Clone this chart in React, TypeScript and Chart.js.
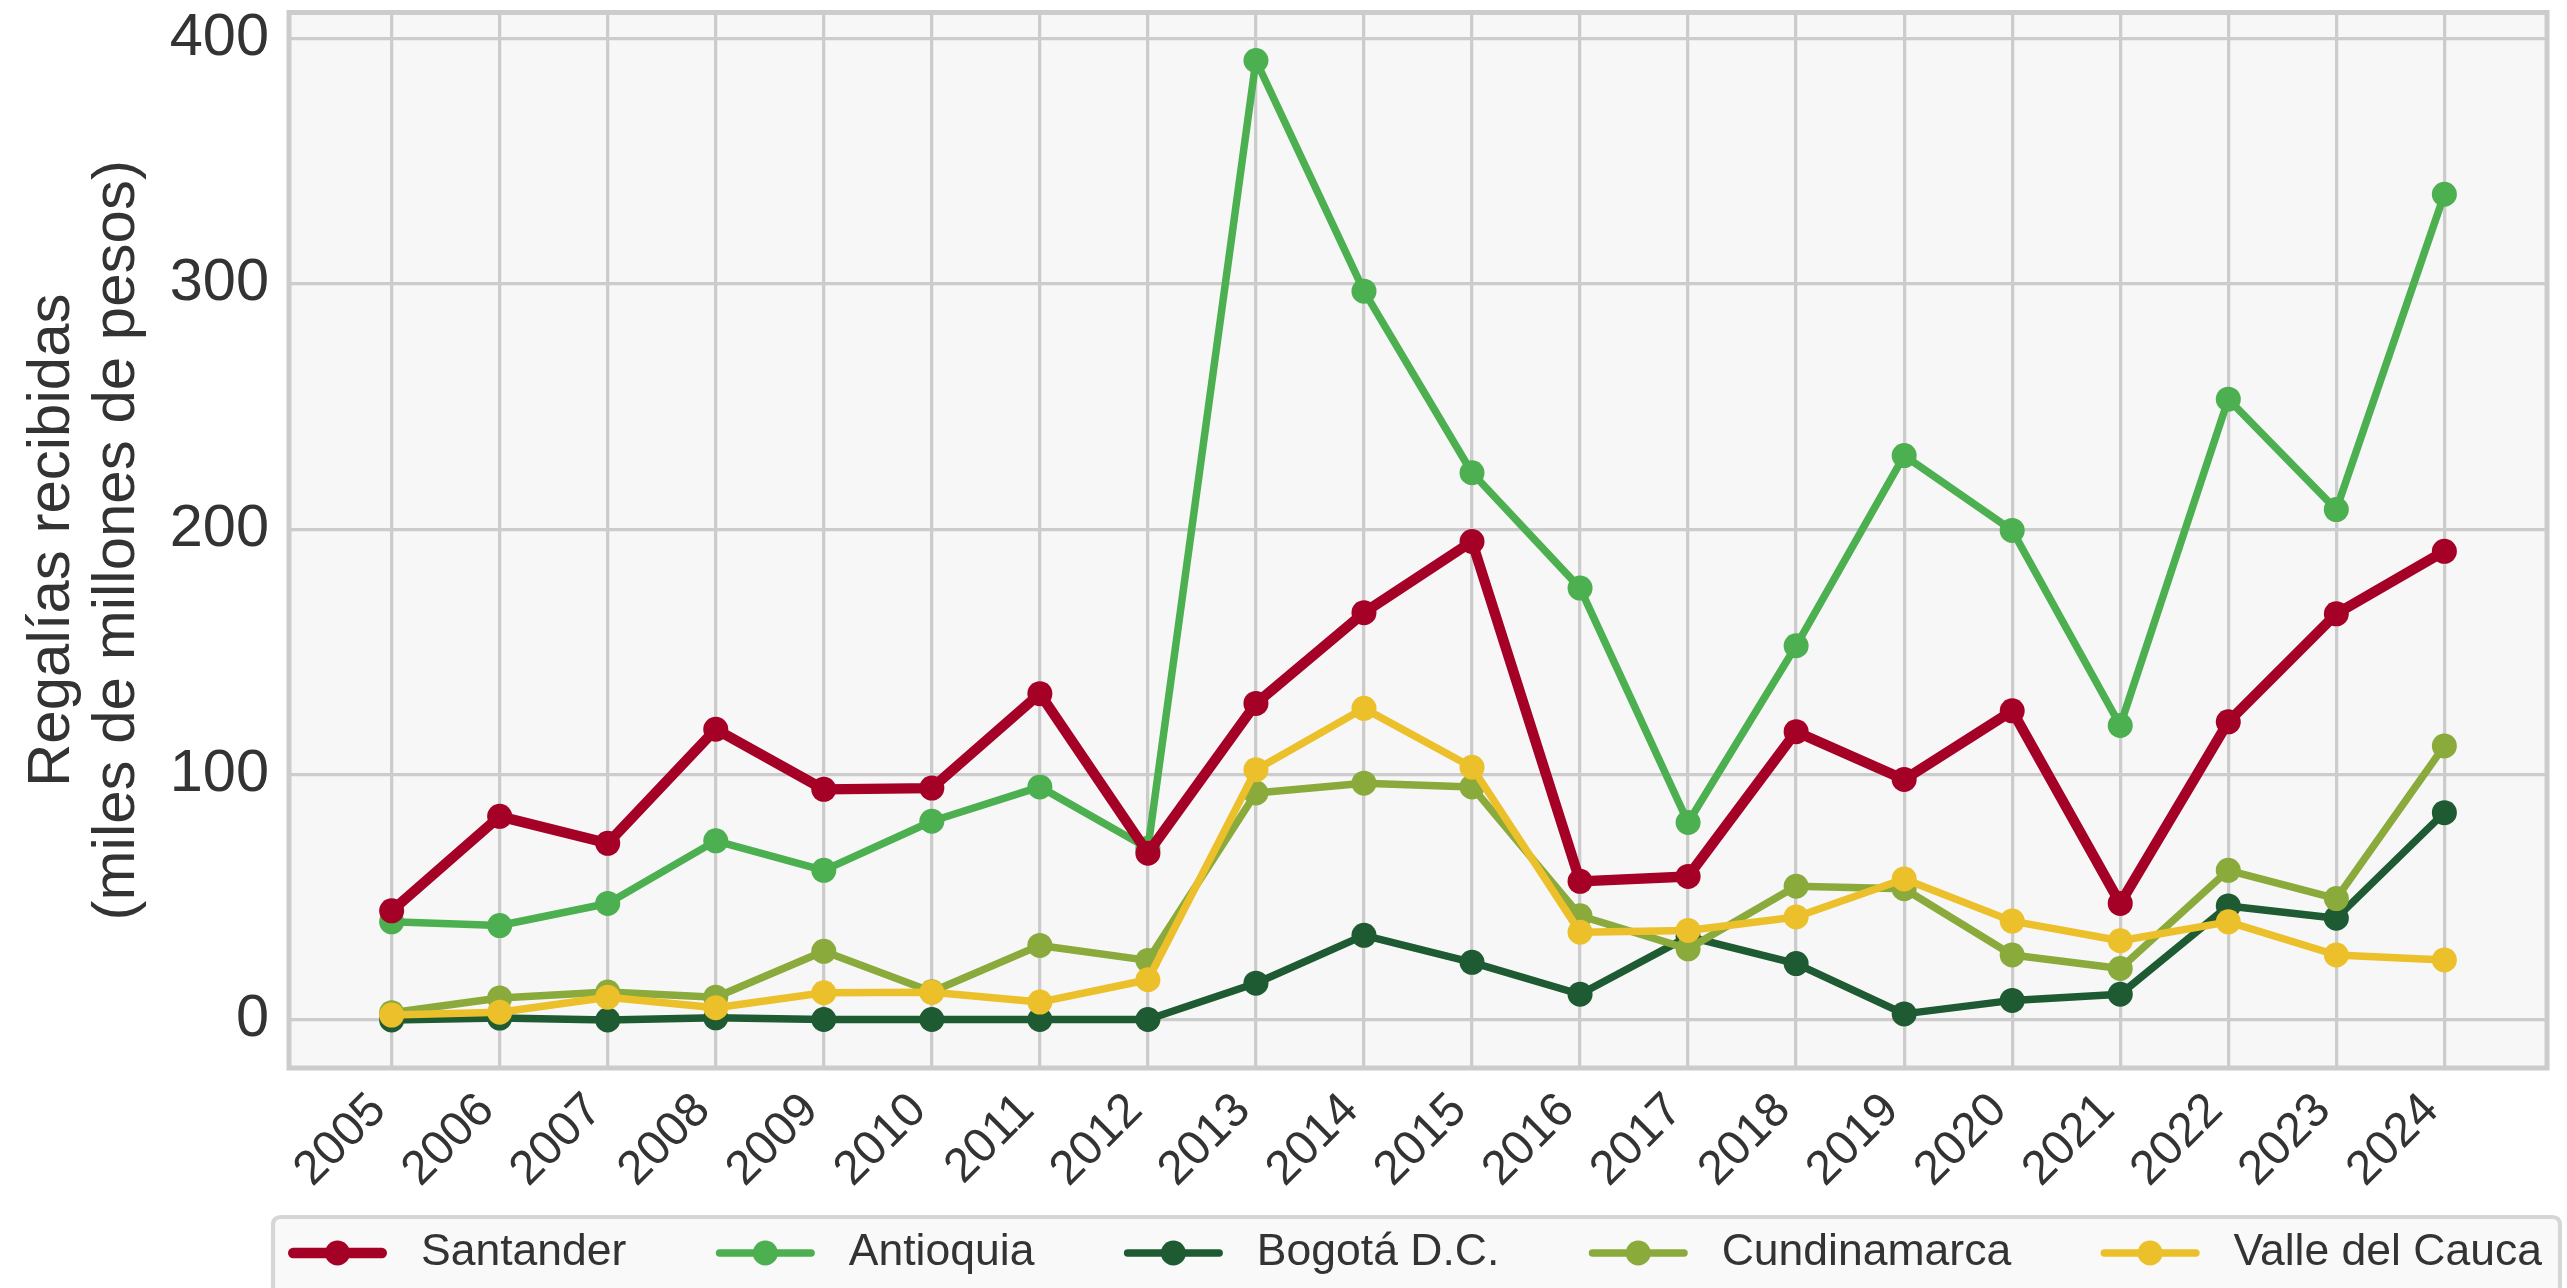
import React, { useEffect, useRef } from "react";
import { Chart, registerables } from "chart.js";

Chart.register(...registerables);

// ---------------- data ----------------
const years = [2005, 2006, 2007, 2008, 2009, 2010, 2011, 2012, 2013, 2014, 2015, 2016, 2017, 2018, 2019, 2020, 2021, 2022, 2023, 2024];

const seriesNames = ["Santander", "Antioquia", "Bogotá D.C.", "Cundinamarca", "Valle del Cauca"];

const santander = [44.5, 83, 72, 118.5, 94, 94.5, 133, 68, 129, 166, 195, 56.5, 58.5, 117.5, 98, 126, 47.5, 121.5, 165.5, 191];
const antioquia = [40, 38.5, 47.5, 73, 61, 81, 95, 70, 391, 297, 223, 176, 80.5, 152.5, 230, 199.5, 120, 253, 208, 336.5];
const bogota = [0, 0.8, 0, 0.9, 0.2, 0.2, 0.2, 0.2, 15, 34.5, 23.5, 10.5, 34, 23, 2.5, 8, 10.5, 46.5, 41.5, 84.5];
const cundinamarca = [3, 9, 11.4, 9.3, 28, 11.5, 30.4, 24.3, 92.5, 96.5, 95, 42.5, 29, 54.5, 53.5, 26.5, 21, 61, 49.5, 111.7];
const valle = [2, 3.2, 9.3, 5, 11.1, 11.3, 7.3, 16.4, 102, 127, 103, 35.8, 36.5, 42, 57.5, 40.3, 32.3, 40, 26.5, 24.5];

const yTicks = [0, 100, 200, 300, 400];
const yAxisTitle = ["Regalías recibidas", "(miles de millones de pesos)"];

// ---------------- styles ----------------
const FONT = '"Liberation Sans", Arial, Helvetica, sans-serif';
const seriesValues = [santander, antioquia, bogota, cundinamarca, valle];
const seriesColors = ["#A50026", "#4CAF50", "#1E5A32", "#8AAA3C", "#EBC02A"];
const seriesWidths = [10.4, 7.5, 7.5, 7.5, 7.5];
const seriesOrder = [0, 4, 3, 2, 1];
const TEXT = "#333333";
const GRID = "#cccccc";

// matplotlib-like 5% auto margins
const allVals = seriesValues.flat();
const yMinData = Math.min(...allVals);
const yMaxData = Math.max(...allVals);
const yPad = 0.05 * (yMaxData - yMinData);
const xPad = 0.05 * (years[years.length - 1] - years[0]);

const decorPlugin = {
  id: "decor",
  beforeDraw(chart: any) {
    const { ctx, chartArea: a } = chart;
    ctx.save();
    ctx.fillStyle = "#ffffff";
    ctx.fillRect(0, 0, chart.width, chart.height);
    ctx.fillStyle = "#f7f7f7";
    ctx.fillRect(a.left, a.top, a.right - a.left, a.bottom - a.top);
    ctx.restore();
  },
  afterDatasetsDraw(chart: any) {
    const { ctx, chartArea: a } = chart;
    ctx.save();
    ctx.strokeStyle = GRID;
    ctx.lineWidth = 5;
    ctx.strokeRect(a.left, a.top, a.right - a.left, a.bottom - a.top);
    ctx.restore();
  },
  afterDraw(chart: any) {
    const { ctx } = chart;
    ctx.save();
    // legend frame
    const bx = 273, by = 1217, bw = 2560 - 273, bh = 140, r = 8;
    ctx.beginPath();
    ctx.moveTo(bx + r, by);
    ctx.lineTo(bx + bw - r, by);
    ctx.quadraticCurveTo(bx + bw, by, bx + bw, by + r);
    ctx.lineTo(bx + bw, by + bh);
    ctx.lineTo(bx, by + bh);
    ctx.lineTo(bx, by + r);
    ctx.quadraticCurveTo(bx, by, bx + r, by);
    ctx.closePath();
    ctx.fillStyle = "#f9f9f9";
    ctx.fill();
    ctx.strokeStyle = "#d6d6d6";
    ctx.lineWidth = 4.2;
    ctx.stroke();

    ctx.font = `44.5px ${FONT}`;
    const ds = chart.data.datasets;
    const textW = ds.map((d: any) => ctx.measureText(d.label).width);
    const handle = 99;
    const textOff = 133;
    const startX = 288;
    const endX = 2542;
    const total = textW.reduce((s: number, w: number) => s + textOff + w, 0);
    const gap = (endX - startX - total) / (ds.length - 1);
    const y = 1253;
    let x = startX;
    ds.forEach((d: any, i: number) => {
      ctx.strokeStyle = d.borderColor;
      ctx.lineWidth = d.borderWidth;
      ctx.lineCap = "round";
      ctx.beginPath();
      ctx.moveTo(x + d.borderWidth / 2, y);
      ctx.lineTo(x + handle - d.borderWidth / 2, y);
      ctx.stroke();
      ctx.fillStyle = d.borderColor;
      ctx.beginPath();
      ctx.arc(x + handle / 2, y, d.pointRadius, 0, Math.PI * 2);
      ctx.fill();
      ctx.fillStyle = TEXT;
      ctx.textAlign = "left";
      ctx.textBaseline = "middle";
      ctx.fillText(d.label, x + textOff, y);
      x += textOff + textW[i] + gap;
    });
    ctx.restore();
  },
};

function zeroPad(s: any) {
  s.paddingLeft = 0;
  s.paddingRight = 0;
  s.paddingTop = 0;
  s.paddingBottom = 0;
}

export default function App() {
  const ref = useRef<HTMLCanvasElement>(null);

  useEffect(() => {
    if (!ref.current) return;
    const datasets = seriesNames.map((name, i) => ({
      label: name,
      data: years.map((yr, j) => ({ x: yr, y: seriesValues[i][j] })),
      borderColor: seriesColors[i],
      backgroundColor: seriesColors[i],
      borderWidth: seriesWidths[i],
      pointRadius: 12.5,
      pointHoverRadius: 12.5,
      pointBackgroundColor: seriesColors[i],
      pointBorderWidth: 0,
      borderJoinStyle: "round" as const,
      borderCapStyle: "round" as const,
      tension: 0,
      order: seriesOrder[i],
    }));

    const chart = new Chart(ref.current, {
      type: "line",
      data: { datasets },
      plugins: [decorPlugin],
      options: {
        animation: false,
        responsive: false,
        devicePixelRatio: 1,
        layout: { padding: { left: 0, top: 12, right: 20, bottom: 80 } },
        plugins: {
          legend: { display: false },
          tooltip: { enabled: false },
        },
        scales: {
          x: {
            type: "linear",
            min: years[0] - xPad,
            max: years[years.length - 1] + xPad,
            afterBuildTicks: (s: any) => {
              s.ticks = years.map((v) => ({ value: v }));
            },
            afterFit: (s: any) => {
              s.height = 140;
              zeroPad(s);
            },
            ticks: {
              autoSkip: false,
              minRotation: 45,
              maxRotation: 45,
              padding: 33,
              labelOffset: -13,
              color: TEXT,
              font: { family: FONT, size: 48, lineHeight: 0.1 },
              callback: (v: any) => String(v),
            },
            grid: { color: GRID, lineWidth: 3.3, drawTicks: false },
            border: { display: false },
          },
          y: {
            type: "linear",
            min: yMinData - yPad,
            max: yMaxData + yPad,
            afterBuildTicks: (s: any) => {
              s.ticks = yTicks.map((v) => ({ value: v }));
            },
            afterFit: (s: any) => {
              s.width = 289;
              zeroPad(s);
            },
            ticks: {
              padding: 20,
              color: TEXT,
              font: { family: FONT, size: 59.5 },
              callback: (v: any) => String(v),
            },
            grid: { color: GRID, lineWidth: 3.3, drawTicks: false },
            border: { display: false },
            title: {
              display: true,
              text: yAxisTitle,
              color: TEXT,
              font: { family: FONT, size: 60, lineHeight: 65 / 60 },
              padding: { top: 20, bottom: 0 },
            },
          },
        },
      },
    } as any);

    return () => chart.destroy();
  }, []);

  return (
    <div style={{ position: "fixed", left: 0, top: 0, width: 2567, height: 1288, background: "#ffffff", overflow: "hidden" }}>
      <canvas ref={ref} width={2567} height={1288} style={{ display: "block", width: 2567, height: 1288 }} />
    </div>
  );
}
